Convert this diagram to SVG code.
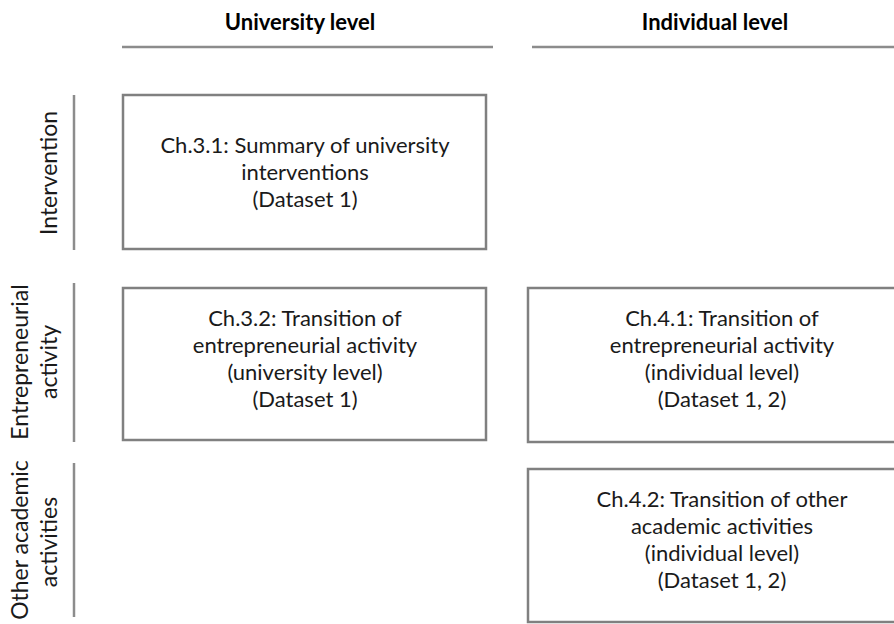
<svg xmlns="http://www.w3.org/2000/svg" width="894" height="624" viewBox="0 0 894 624">
<style>
.t{font-family:Lato,"Liberation Sans",sans-serif;font-size:22px;fill:#1a1a1a;text-anchor:middle}
.s{font-family:Lato,"Liberation Sans",sans-serif;font-size:23px;fill:#1a1a1a;text-anchor:middle}
.h{font-family:Lato,"Liberation Sans",sans-serif;font-size:22px;fill:#000;text-anchor:middle;font-weight:bold}
.box{fill:#fff;stroke:#808080;stroke-width:2.5}
.rule{stroke:#8c8c8c;stroke-width:2.5;fill:none}
</style>
<rect width="894" height="624" fill="#fff"/>
<g id="connectors">
<line class="rule" x1="122" y1="47" x2="493" y2="47"/>
<line class="rule" x1="532" y1="47" x2="894" y2="47"/>
<line class="rule" x1="74" y1="95" x2="74" y2="250"/>
<line class="rule" x1="74" y1="283" x2="74" y2="442"/>
<line class="rule" x1="74" y1="463" x2="74" y2="617"/>
</g>
<g id="header-university"><text class="h" x="300" y="30">University level</text></g>
<g id="header-individual"><text class="h" x="715" y="30">Individual level</text></g>
<g id="label-intervention"><text class="s" transform="translate(57,173) rotate(-90)">Intervention</text></g>
<g id="label-entrepreneurial"><text class="s" transform="translate(28,362) rotate(-90)">Entrepreneurial</text><text class="s" transform="translate(57,362) rotate(-90)">activity</text></g>
<g id="label-other"><text class="s" transform="translate(28,540) rotate(-90)">Other academic</text><text class="s" transform="translate(57,542) rotate(-90)">activities</text></g>
<g id="box-3-1"><rect class="box" x="123" y="95" width="363" height="154"/>
<text class="t" x="305" y="153">Ch.3.1: Summary of university</text>
<text class="t" x="305" y="180">interventions</text>
<text class="t" x="305" y="207">(Dataset 1)</text></g>
<g id="box-3-2"><rect class="box" x="123" y="288" width="363" height="152"/>
<text class="t" x="305" y="326">Ch.3.2: Transition of</text>
<text class="t" x="305" y="353">entrepreneurial activity</text>
<text class="t" x="305" y="380">(university level)</text>
<text class="t" x="305" y="407">(Dataset 1)</text></g>
<g id="box-4-1"><rect class="box" x="528" y="288" width="390" height="154"/>
<text class="t" x="722" y="326">Ch.4.1: Transition of</text>
<text class="t" x="722" y="353">entrepreneurial activity</text>
<text class="t" x="722" y="380">(individual level)</text>
<text class="t" x="722" y="407">(Dataset 1, 2)</text></g>
<g id="box-4-2"><rect class="box" x="528" y="469" width="390" height="153"/>
<text class="t" x="722" y="507">Ch.4.2: Transition of other</text>
<text class="t" x="722" y="534">academic activities</text>
<text class="t" x="722" y="561">(individual level)</text>
<text class="t" x="722" y="588">(Dataset 1, 2)</text></g>
</svg>
